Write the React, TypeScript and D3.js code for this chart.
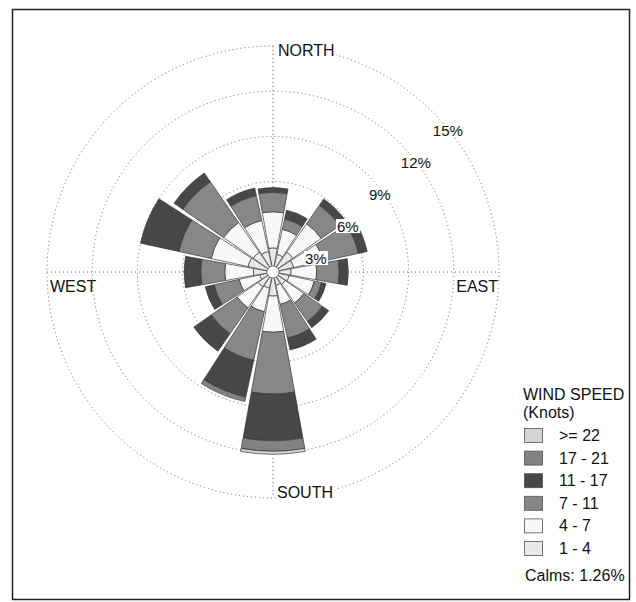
import React from 'react';
import * as d3 from 'd3';

// 16 compass sectors, clockwise from north
const directions = ['N', 'NNE', 'NE', 'ENE', 'E', 'ESE', 'SE', 'SSE', 'S', 'SSW', 'SW', 'WSW', 'W', 'WNW', 'NW', 'NNW'];

// frequency (%) by wind speed class, one value per direction
const speed1to4 = [1.6, 1.2, 1.6, 1.4, 1.2, 1.1, 1.0, 0.9, 1.6, 1.1, 1.2, 0.9, 1.3, 1.7, 1.6, 1.4];
const speed4to7 = [2.4, 1.7, 2.3, 2.0, 1.7, 1.7, 1.5, 1.3, 2.4, 1.6, 1.7, 1.4, 1.9, 2.5, 2.4, 2.1];
const speed7to11 = [1.3, 0.7, 1.5, 2.4, 1.5, 0.5, 1.5, 2.3, 4.1, 3.3, 2.1, 1.7, 1.6, 2.2, 3.3, 1.7];
const speed11to17 = [0.3, 0.6, 0.5, 0.6, 0.6, 0.3, 0.5, 0.8, 3.1, 2.5, 1.4, 0.6, 1.1, 2.6, 0.7, 0.5];
const speed17to21 = [0, 0, 0, 0, 0, 0, 0, 0, 0.7, 0.3, 0, 0, 0, 0, 0, 0];
const speed22plus = [0, 0, 0, 0, 0, 0, 0, 0, 0.2, 0, 0, 0, 0, 0, 0, 0];

const speedLabels = ['1 - 4', '4 - 7', '7 - 11', '11 - 17', '17 - 21', '>= 22'];
const speedColors = ['#e9e9e9', '#f8f8f8', '#878787', '#474747', '#828282', '#d4d4d4'];
const series = [speed1to4, speed4to7, speed7to11, speed11to17, speed17to21, speed22plus];

const ringTicks = [3, 6, 9, 12, 15];
const calms = '1.26%';

const W = 636;
const H = 602;
const cx = 273;
const cy = 272;
const font = '"Liberation Sans", Arial, sans-serif';

export default function App() {
  const r = d3.scaleLinear().domain([0, 15]).range([0, 226]);
  const step = (2 * Math.PI) / directions.length;
  const half = step / 2 - 0.018;

  const arc = d3.arc<any>();

  // stack each direction's speed classes outward
  const bands: { d: string; fill: string }[] = [];
  directions.forEach((_, i) => {
    let acc = 0;
    series.forEach((s, k) => {
      const v = s[i];
      if (v <= 0) return;
      const a0 = i * step - half;
      const path = arc({
        innerRadius: r(acc),
        outerRadius: r(acc + v),
        startAngle: a0,
        endAngle: a0 + 2 * half,
      }) as string;
      bands.push({ d: path, fill: speedColors[k] });
      acc += v;
    });
  });

  const R = r(15);
  const sin45 = Math.SQRT1_2;

  const legendX = 523;
  const legendRows = [5, 4, 3, 2, 1, 0];

  return (
    <svg width={W} height={H} style={{ position: 'absolute', left: 0, top: 0, background: '#fff' }} fontFamily={font}>
      <rect x={12.5} y={9.5} width={617} height={590} fill="#fff" stroke="#222" strokeWidth={1.5} />

      {/* grid */}
      <g fill="none" stroke="#666" strokeWidth={1} strokeDasharray="1,3">
        {ringTicks.map((t) => (
          <circle key={t} cx={cx} cy={cy} r={r(t)} />
        ))}
        <line x1={cx - R} x2={cx + R} y1={cy} y2={cy} />
        <line x1={cx} x2={cx} y1={cy - R} y2={cy + R} />
      </g>

      {/* rose */}
      <g transform={`translate(${cx},${cy})`}>
        {bands.map((b, i) => (
          <path key={i} d={b.d} fill={b.fill} stroke="#3a3a3a" strokeWidth={0.7} />
        ))}
        <circle r={6} fill="#fff" stroke="#555" strokeWidth={0.7} />
      </g>

      {/* ring labels */}
      {ringTicks.map((t) => {
        const x = cx + r(t) * sin45;
        const y = cy - r(t) * sin45 + 12;
        return (
          <g key={t}>
            <rect x={x - 1} y={y - 1} width={t >= 10 ? 32 : 24} height={14} fill="#fff" />
            <text x={x} y={y + 11.5} fontSize={15} fill="#111">{t}%</text>
          </g>
        );
      })}

      {/* compass labels */}
      <g fontSize={16} fill="#111">
        <rect x={276} y={44} width={60} height={14} fill="#fff" />
        <text x={278} y={56}>NORTH</text>
        <rect x={276} y={486} width={60} height={13} fill="#fff" />
        <text x={277} y={498}>SOUTH</text>
        <text x={50} y={292}>WEST</text>
        <text x={498} y={292} textAnchor="end">EAST</text>
      </g>

      {/* legend */}
      <g fontSize={16} fill="#111">
        <text x={legendX} y={400}>WIND SPEED</text>
        <text x={legendX} y={418}>(Knots)</text>
        {legendRows.map((k, j) => {
          const y = 428 + j * 22.6;
          return (
            <g key={k}>
              <rect x={legendX + 1.5} y={y + 0.5} width={18} height={14} fill={speedColors[k]} stroke="#555" strokeWidth={0.8} />
              <text x={legendX + 36} y={y + 13}>{speedLabels[k]}</text>
            </g>
          );
        })}
        <text x={legendX + 2} y={581}>Calms: {calms}</text>
      </g>
    </svg>
  );
}
